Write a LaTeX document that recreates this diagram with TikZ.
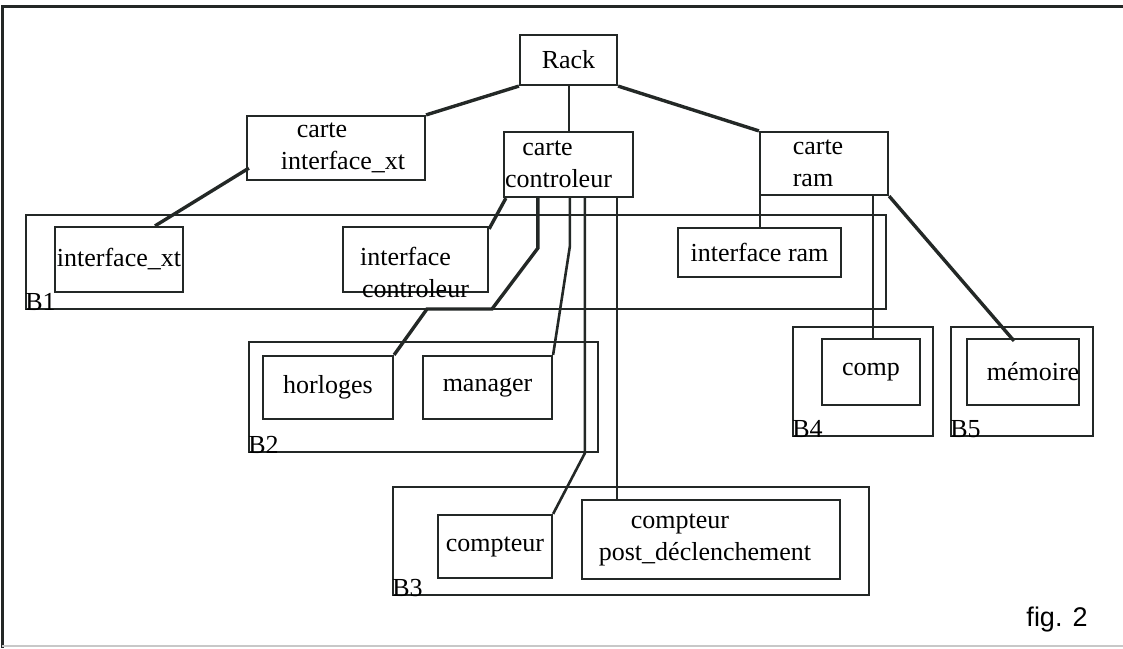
\documentclass[tikz,border=0pt]{standalone}
\usepackage{fontspec}
\setmainfont{Liberation Serif}
\newfontfamily\figfont{Liberation Sans}
\usepackage{tikz}
\usetikzlibrary{positioning, calc}
\definecolor{ink}{RGB}{35, 40, 38}
\definecolor{scan}{RGB}{200, 200, 200}

\begin{document}
\begin{tikzpicture}[
  x=0.5pt, y=-0.5pt,
  blk/.style={draw=ink, line width=1.1pt, inner sep=0pt, align=center,
    font=\fontsize{13}{16}\selectfont},
  blab/.style={anchor=base west, inner sep=0pt, font=\fontsize{13}{16}\selectfont},
  thk/.style={draw=ink, line width=1.7pt},
  mid/.style={draw=ink, line width=1.3pt},
  thn/.style={draw=ink, line width=1pt},
]
\useasboundingbox (0,0) rectangle (1123,648);
% frame of the scanned page
\draw[ink, line width=1.5pt] (1123,6) -- (2,6) -- (2,648);
\draw[scan, line width=0.8pt] (2,646) -- (1123,646);

% top level
\node[blk, minimum width=48.5pt, minimum height=25pt] (rack) at (568.5,60) {Rack};
\node[blk, minimum width=89pt, minimum height=32pt] (cxt) at (336,148)
{carte\hspace*{14pt}\\\hspace*{7pt}interface\_xt};
\node[blk, minimum width=64.5pt, minimum height=32.5pt] (cc) at (568.5,164.5)
{carte\hspace*{21pt}\\controleur\hspace*{10pt}};
\node[blk, minimum width=64pt, minimum height=31.5pt] (cr) at (824,163.5)
{carte\hspace*{6pt}\\ram\hspace*{11pt}};

% block B1
\node[blk, minimum width=430pt, minimum height=47pt] (B1) at (456,262) {};
\node[blk, minimum width=64pt, minimum height=32.5pt] (ixt) at (119,259.5) {interface\_xt};
\node[blk, minimum width=72.5pt, minimum height=32.5pt] (ictl) at (415.5,259.5)
{\raisebox{-6.5pt}[\height][\depth]{interface\hspace*{10pt}}\\\raisebox{-6.5pt}[\height][\depth]{controleur}};
\node[blk, minimum width=81.5pt, minimum height=24.5pt] (iram) at (759.5,252.5) {interface ram};

% block B2
\node[blk, minimum width=174.5pt, minimum height=55pt] (B2) at (423.5,397) {};
\node[blk, minimum width=65pt, minimum height=31.5pt] (hor) at (328,387.5) {horloges};
\node[blk, minimum width=64.5pt, minimum height=31.5pt] (man) at (487.5,387.5) {manager};

% block B3
\node[blk, minimum width=238pt, minimum height=54pt] (B3) at (631,541) {};
\node[blk, minimum width=57pt, minimum height=31.5pt] (cpt) at (495,546.5) {compteur};
\node[blk, minimum width=129pt, minimum height=39.5pt] (post) at (711,539.5)
{compteur\hspace*{31pt}\\post\_déclenchement\hspace*{6pt}};

% blocks B4 and B5
\node[blk, minimum width=70pt, minimum height=54.5pt] (B4) at (863,381.5) {};
\node[blk, minimum width=49pt, minimum height=33pt] (comp) at (871,372) {comp};
\node[blk, minimum width=71pt, minimum height=54.5pt] (B5) at (1022,381.5) {};
\node[blk, minimum width=56pt, minimum height=33pt] (mem) at (1023,372) {\hspace*{10pt}mémoire};

% block labels
\node[blab] (b1lab) at (B1.south west) {B1};
\node[blab] (b2lab) at (B2.south west) {B2};
\node[blab] (b3lab) at (B3.south west) {B3};
\node[blab] (b4lab) at (B4.south west) {B4};
\node[blab] (b5lab) at (B5.south west) {B5};

% links from the rack
\draw[thk] (rack.south west) -- (cxt.north east);
\draw[thn] (rack.south) -- (cc.north);
\draw[thk] (rack.south east) -- (cr.north west);

% links from the cards
\draw[thk] ($(cxt.south west)+(3,-13)$) -- ($(ixt.north)+(36,0)$);
\draw[thk] ($(cc.south west)+(3,0)$) -- ($(ictl.north east)+(0,3)$);
\draw[thk] ($(cc.south west)+(35,0)$) -- ++(0,50) -- (492,309) -- (427,309) -- (hor.north east);
\draw[mid] ($(cc.south west)+(67,0)$) -- ++(0,48) -- (man.north east);
\draw[mid] ($(cc.south west)+(82,0)$) -- ++(0,255) -- (cpt.north east);
\coordinate (pin) at ($(post.north west)+(36,0)$);
\draw[thn] (pin |- cc.south) -- (pin);
\draw[thn] (iram.north |- cr.south) -- (iram.north);
\coordinate (cin) at ($(comp.north)+(2,0)$);
\draw[thn] (cin |- cr.south) -- (cin);
\draw[thk] (cr.south east) -- ($(mem.north)+(-9,3)$);

\node[font=\figfont\fontsize{13.5}{16}\selectfont] (fig) at (1057,620) {fig. 2};
\end{tikzpicture}
\end{document}
